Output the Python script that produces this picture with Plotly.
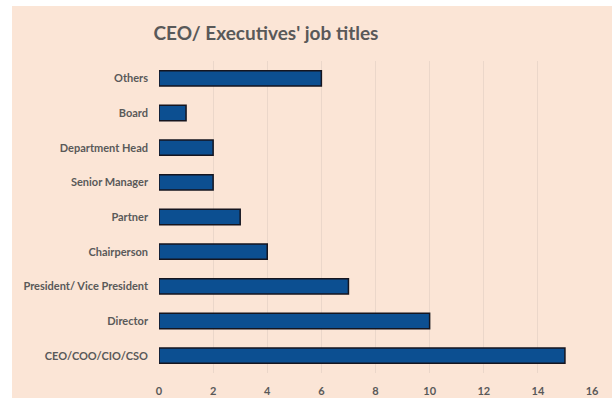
import plotly.graph_objects as go

# Job titles (bottom to top) and respondent counts
titles = [
    "CEO/COO/CIO/CSO",
    "Director",
    "President/ Vice President",
    "Chairperson",
    "Partner",
    "Senior Manager",
    "Department Head",
    "Board",
    "Others",
]
counts = [15, 10, 7, 4, 3, 2, 2, 1, 6]
x_ticks = [0, 2, 4, 6, 8, 10, 12, 14, 16]

W, H = 612, 398
L, R, T, B = 159, 20, 61, 25
pw, ph = W - L - R, H - T - B

PEACH = "#FBE5D6"
TEXT = "#595959"
FONT = "Lato"

fig = go.Figure(
    go.Bar(
        x=counts,
        y=titles,
        orientation="h",
        width=0.44,
        marker=dict(color="#0C4F91", line=dict(color="#15151f", width=1.5)),
    )
)

# thin white strips along the top and left edges of the peach chart area
fig.add_shape(
    type="rect", xref="paper", yref="paper", layer="below",
    x0=-(L + 5) / pw, x1=(W - L + 5) / pw,
    y0=(H - 6 - B) / ph, y1=(H - B + 5) / ph,
    fillcolor="white", line=dict(width=0),
)
fig.add_shape(
    type="rect", xref="paper", yref="paper", layer="below",
    x0=-(L + 5) / pw, x1=-(L - 12) / pw,
    y0=-(B + 5) / ph, y1=(H - B + 5) / ph,
    fillcolor="white", line=dict(width=0),
)

fig.update_layout(
    width=W, height=H,
    margin=dict(l=L, r=R, t=T, b=B, autoexpand=False),
    paper_bgcolor=PEACH,
    plot_bgcolor="rgba(0,0,0,0)",
    showlegend=False,
    title=dict(
        text="<b>CEO/ Executives' job titles</b>",
        font=dict(family=FONT, size=19, color=TEXT),
        x=266 / W, xanchor="center", xref="container",
        y=1 - 33 / H, yanchor="middle", yref="container",
    ),
    xaxis=dict(
        range=[0, 16],
        tickvals=x_ticks,
        ticktext=[f"<b>{v}</b>" for v in x_ticks],
        tickfont=dict(family=FONT, size=11, color=TEXT),
        showgrid=True, gridcolor="#EBD7CA", gridwidth=1,
        zeroline=False, showline=False,
        ticklabelstandoff=10,
        automargin=False,
        fixedrange=True,
    ),
    yaxis=dict(
        categoryorder="array", categoryarray=titles,
        tickvals=titles,
        ticktext=[f"<b>{t}</b>" for t in titles],
        tickfont=dict(family=FONT, size=11, color=TEXT),
        showgrid=False, zeroline=False, showline=False,
        ticklabelstandoff=10,
        automargin=False,
        fixedrange=True,
    ),
)

fig.write_html("out.html", config={"displayModeBar": False})
